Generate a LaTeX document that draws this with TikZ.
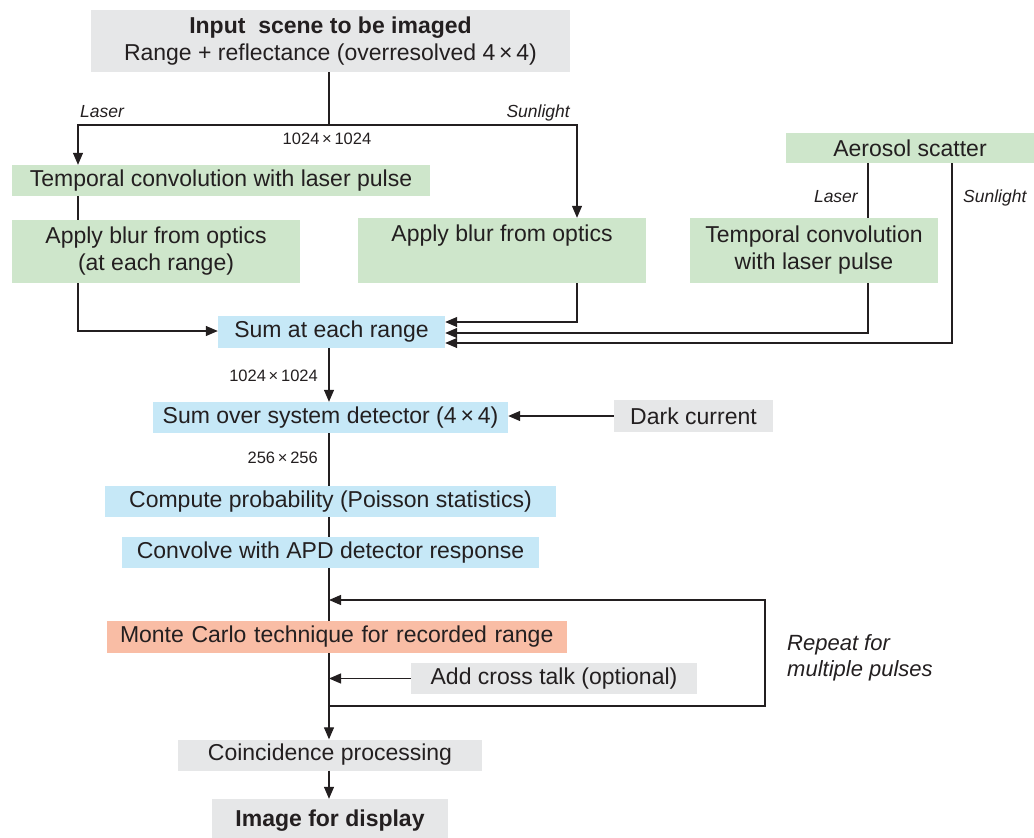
\documentclass[tikz,border=0pt]{standalone}
\usepackage{fontspec}
\setmainfont{Liberation Sans}
\usetikzlibrary{arrows.meta,backgrounds}
\definecolor{ink}{HTML}{231F20}
\definecolor{graybox}{HTML}{E6E7E8}
\definecolor{greenbox}{HTML}{CEE6CB}
\definecolor{bluebox}{HTML}{C6E8F7}
\definecolor{salmonbox}{HTML}{F9BDA5}
\tikzset{
  box/.style={inner sep=0pt, align=center, text=ink, font=\fontsize{23}{27}\selectfont},
  gbox/.style={box, fill=graybox},
  grbox/.style={box, fill=greenbox},
  bbox/.style={box, fill=bluebox},
  sbox/.style={box, fill=salmonbox},
  conn/.style={draw=ink, line width=1.2pt},
  arr/.style={conn, -{Triangle[length=12pt,width=10pt]}},
  small/.style={inner sep=0pt, text=ink, font=\fontsize{16.5}{20}\selectfont},
  ital/.style={inner sep=0pt, text=ink, font=\fontsize{17.5}{21}\selectfont\itshape},
}
\begin{document}
\begin{tikzpicture}[x=1pt,y=-1pt]
\useasboundingbox (0,0) rectangle (1034,838);

% boxes
\node[gbox, minimum width=479pt, minimum height=62pt] (input) at (330.5,41)
  {\textbf{Input\ \ scene to be imaged}\\Range + reflectance (overresolved 4\,×\,4)};
\node[grbox, minimum width=418pt, minimum height=31pt] (tconvL) at (221,180.5) {Temporal convolution with laser pulse};
\node[grbox, minimum width=288pt, minimum height=63pt] (blurL) at (156,251.5) {Apply blur from optics\\(at each range)};
\node[grbox, minimum width=288pt, minimum height=65pt] (blurR) at (502,250.5) {Apply blur from optics\\\strut};
\node[grbox, minimum width=248pt, minimum height=30pt] (aerosol) at (910,148) {Aerosol scatter};
\node[grbox, minimum width=248pt, minimum height=65pt] (tconvR) at (814,250.5) {Temporal convolution\\with laser pulse};
\node[bbox, minimum width=227pt, minimum height=32pt] (sum) at (331.5,332) {Sum at each range};
\node[bbox, minimum width=355pt, minimum height=31pt] (det) at (330.5,417.5) {Sum over system detector (4\,×\,4)};
\node[gbox, minimum width=159pt, minimum height=32pt] (dark) at (693.5,416) {Dark current};
\node[bbox, minimum width=451pt, minimum height=31pt] (prob) at (330.5,501.5) {Compute probability (Poisson statistics)};
\node[bbox, minimum width=417pt, minimum height=31pt] (apd) at (330.5,552.5) {Convolve with APD detector response};
\node[sbox, minimum width=460pt, minimum height=32pt, text width=460pt, align=left] (mc) at (337,637) {\hspace*{13pt}Monte Carlo technique for recorded range};
\node[gbox, minimum width=286pt, minimum height=31pt] (xtalk) at (554,678.5) {Add cross talk (optional)};
\node[gbox, minimum width=304pt, minimum height=31pt] (coin) at (330,755) {Coincidence processing};
\node[gbox, minimum width=236pt, minimum height=44pt] (img) at (330,821) {\textbf{Image for display}};

% junction coordinates
\coordinate (split) at (329,125);
\coordinate (spL) at (78,125);
\coordinate (spR) at (577,125);
\coordinate (jL) at (78,331);
\coordinate (jR) at (577,322);
\coordinate (aL) at (868,333);
\coordinate (aS) at (952,343);
\coordinate (lb) at (329,706);
\coordinate (lr) at (765,706);
\coordinate (lt) at (765,600);

% connectors
\draw[conn] (input.south -| split) -- (split);
\draw[arr] (split) -- (spL) -- (spL |- tconvL.north);
\draw[arr] (split) -- (spR) -- (spR |- blurR.north);
\draw[conn] (tconvL.south -| spL) -- (blurL.north -| spL);
\draw[arr] (blurL.south -| jL) -- (jL) -- (jL -| sum.west);
\draw[arr] (blurR.south -| jR) -- (jR) -- (jR -| sum.east);
\draw[conn] (aerosol.south -| aL) -- (tconvR.north -| aL);
\draw[arr] (tconvR.south -| aL) -- (aL) -- (aL -| sum.east);
\draw[arr] (aerosol.south -| aS) -- (aS) -- (aS -| sum.east);
\draw[arr] (sum.south -| split) -- (det.north -| split);
\draw[arr] (dark.west) -- (dark.west -| det.east);
\draw[conn] (det.south -| split) -- (prob.north -| split);
\draw[conn] (prob.south -| split) -- (apd.north -| split);
\begin{scope}[on background layer]
\draw[arr] (apd.south -| split) -- (coin.north -| split);
\end{scope}
\draw[arr] (lb) -- (lr) -- (lt) -- (lt -| split);
\draw[arr] (xtalk.west) -- (xtalk.west -| split);
\draw[arr] (coin.south -| split) -- (img.north -| split);

% labels
\node[ital, anchor=base west] (lbLaserL) at (80,117) {Laser};
\node[ital, anchor=base east] (lbSunL) at (570,117) {Sunlight};
\node[small, anchor=base] (lbRes1) at (327,144) {1024\,×\,1024};
\node[ital, anchor=base east] (lbLaserR) at (858,202) {Laser};
\node[ital, anchor=base west] (lbSunR) at (963,202) {Sunlight};
\node[small, anchor=base east] (lbRes2) at (318,381) {1024\,×\,1024};
\node[small, anchor=base east] (lbRes3) at (318,463) {256\,×\,256};
\node[inner sep=0pt, text=ink, font=\fontsize{22}{26}\selectfont\itshape, align=left, anchor=base west] (repeat) at (787,676) {Repeat for\\multiple pulses};
\end{tikzpicture}
\end{document}
